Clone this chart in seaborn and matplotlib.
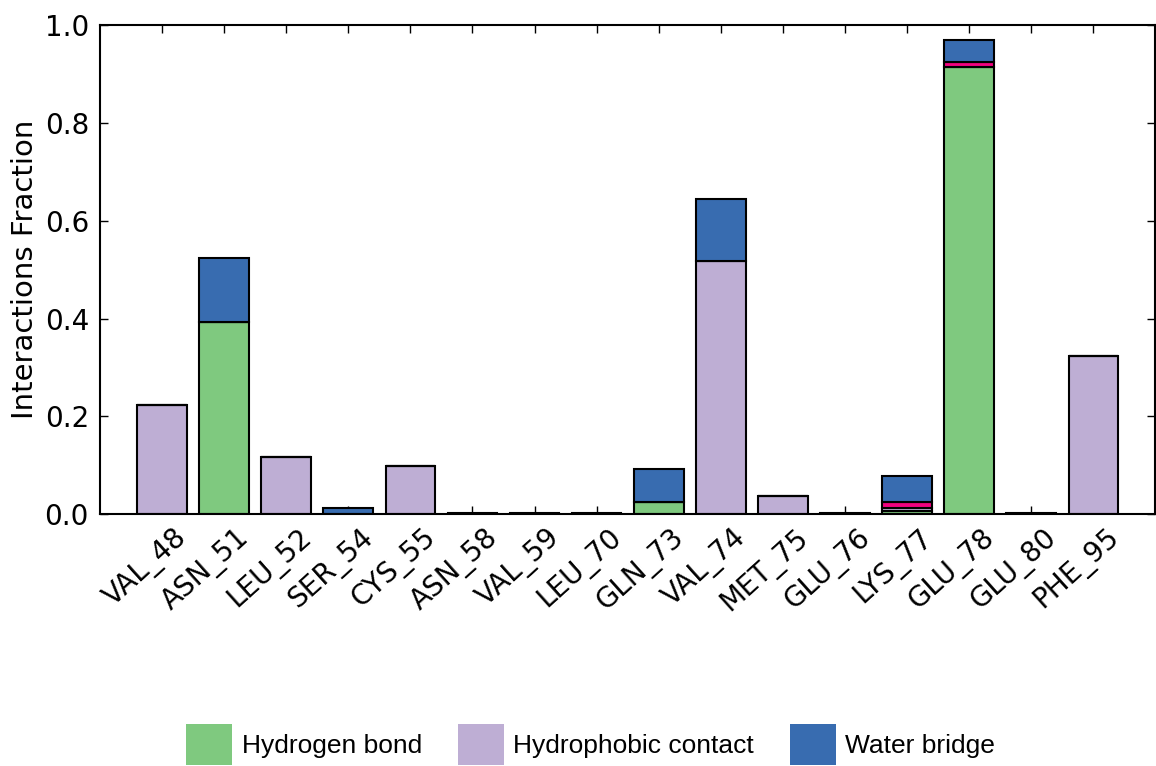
import numpy as np
import pandas as pd
import matplotlib
matplotlib.use("Agg")
import matplotlib.pyplot as plt
import seaborn as sns
from matplotlib.patches import Patch

# residues and interaction fractions (stacked)
residues = ["VAL_48", "ASN_51", "LEU_52", "SER_54", "CYS_55", "ASN_58", "VAL_59", "LEU_70",
            "GLN_73", "VAL_74", "MET_75", "GLU_76", "LYS_77", "GLU_78", "GLU_80", "PHE_95"]
hbond = [0.0, 0.393, 0.0, 0.0, 0.0, 0.0, 0.0, 0.0, 0.025, 0.0, 0.0, 0.0, 0.006, 0.914, 0.0, 0.0]
hydrophobic = [0.223, 0.0, 0.117, 0.0, 0.098, 0.0, 0.0, 0.0, 0.0, 0.517, 0.037, 0.0, 0.006, 0.0, 0.0, 0.323]
ionic = [0.0, 0.0, 0.0, 0.0, 0.0, 0.0, 0.0, 0.0, 0.0, 0.0, 0.0, 0.0, 0.012, 0.010, 0.0, 0.0]
water_bridge = [0.0, 0.131, 0.0, 0.012, 0.0, 0.003, 0.003, 0.002, 0.067, 0.127, 0.0, 0.002, 0.054, 0.045, 0.002, 0.0]

series = [("Hydrogen bond", hbond, "#7fc97f"),
          ("Hydrophobic contact", hydrophobic, "#beaed4"),
          ("Ionic", ionic, "#f0027f"),
          ("Water bridge", water_bridge, "#386cb0")]

sns.set_theme(style="ticks")
plt.rcParams['font.family'] = ['DejaVu Sans']
plt.rcParams['font.sans-serif'] = ['DejaVu Sans']
for k in ["text.color", "axes.labelcolor", "xtick.color", "ytick.color"]:
    plt.rcParams[k] = "black"

fig = plt.figure(figsize=(11.56, 7.66), dpi=100)
ax = fig.add_axes([0.0865, 0.329, 0.913, 0.638])

bottom = np.zeros(len(residues))
for name, vals, col in series:
    df = pd.DataFrame({"residue": residues, "frac": vals})
    sns.barplot(data=df, x="residue", y="frac", color=col, bottom=bottom,
                edgecolor="black", linewidth=1.5, width=0.8, saturation=1,
                errorbar=None, ax=ax)
    bottom = bottom + np.array(vals)

ax.set_xlim(-1, len(residues))
ax.set_ylim(0, 1.0)
ax.set_yticks([0.0, 0.2, 0.4, 0.6, 0.8, 1.0])
ax.set_yticklabels(["0.0", "0.2", "0.4", "0.6", "0.8", "1.0"], fontfamily="DejaVu Sans")

# tick marks on the bars, names on minor ticks a little to the right
pos = np.arange(len(residues))
ax.set_xticks(pos)
ax.set_xticklabels([])
ax.set_xticks(pos + 0.2, minor=True)
ax.set_xticklabels(residues, minor=True, fontfamily="DejaVu Sans", rotation=42,
                   ha="right", rotation_mode="anchor")
ax.set_xlabel("")
ax.set_ylabel("Interactions Fraction", fontsize=21, labelpad=4, fontfamily="DejaVu Sans")
ax.tick_params(axis="both", which="major", direction="in", top=True, right=True, length=6,
               width=1, labelsize=20, color="black")
ax.tick_params(axis="x", which="minor", length=0, top=False, labelsize=20, pad=7)
ax.tick_params(axis="y", pad=8)
for s in ax.spines.values():
    s.set_linewidth(1.5)
    s.set_color("black")

handles = [Patch(facecolor=c, edgecolor="none", label=n) for n, v, c in series if n != "Ionic"]
fig.legend(handles=handles, loc="lower center", bbox_to_anchor=(0.511, -0.03), ncol=3,
           frameon=False, prop={"family": "Liberation Sans", "size": 19},
           handlelength=1.75, handleheight=2.0, columnspacing=1.36, handletextpad=0.35)

fig.savefig("out.png", dpi=100)
